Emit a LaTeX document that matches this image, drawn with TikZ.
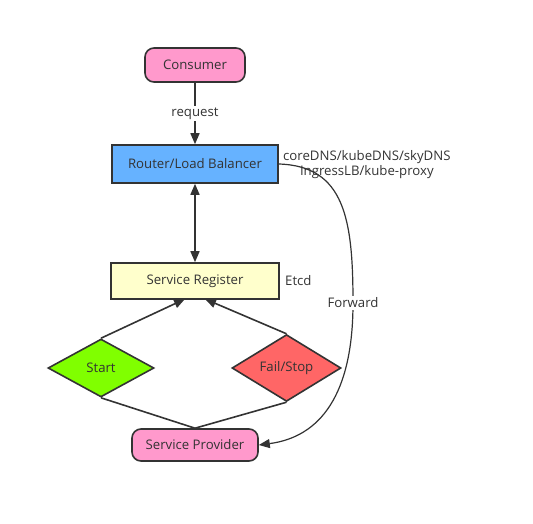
\documentclass[tikz,border=0pt]{standalone}
\usepackage{fontspec}
\setmainfont{Open Sans}
\usetikzlibrary{shapes.geometric,arrows.meta}
\definecolor{ink}{HTML}{333333}
\definecolor{pinkfill}{HTML}{FF99CC}
\definecolor{bluefill}{HTML}{66B2FF}
\definecolor{yellowfill}{HTML}{FFFFCC}
\definecolor{greenfill}{HTML}{80FF00}
\definecolor{redfill}{HTML}{FF6666}
\begin{document}
\begin{tikzpicture}[x=1pt,y=-1pt,
  every node/.style={font=\fontsize{13.2}{15}\selectfont, text=ink},
  box/.style={draw=ink, line width=1.6pt, inner sep=0pt},
  pill/.style={box, rounded corners=9pt, fill=pinkfill},
  rhomb/.style={box, diamond, minimum width=106pt, minimum height=58pt},
  link/.style={draw=ink, line width=1.6pt},
  tip/.style={-{Triangle[length=11pt,width=9pt]}},
  note/.style={inner sep=1pt}]
  \useasboundingbox (0,0) rectangle (533,523);

  \node[pill, minimum width=100pt, minimum height=34pt] (consumer) at (195,65) {Consumer};
  \node[box, fill=bluefill, minimum width=166pt, minimum height=38pt] (router) at (195,164) {Router/Load Balancer};
  \node[box, fill=yellowfill, minimum width=168pt, minimum height=36pt] (register) at (195,281) {Service Register};
  \node[rhomb, fill=greenfill] (start) at (101,368) {Start};
  \node[rhomb, fill=redfill, minimum width=109pt] (fail) at (286.5,368) {Fail/Stop};
  \node[pill, minimum width=126pt, minimum height=32pt] (provider) at (195,445) {Service Provider};

  \node[note, anchor=west] (etcd) at (284,281) {Etcd};
  \node[note, anchor=west, align=center] (dns) at (282,164.5) {coreDNS/kubeDNS/skyDNS\\IngressLB/kube-proxy};

  % request path
  \draw[link, tip] (consumer) -- node[fill=white, inner sep=1.5pt] {request} (router);
  % router <-> registry
  \draw[link, {Triangle[length=11pt,width=9pt]}-{Triangle[length=11pt,width=9pt]}] (router) -- (register);
  % state changes reported to the registry
  \coordinate (regL) at (185,299);
  \coordinate (regR) at (205,299);
  \draw[link, tip] (start.north) -- (regL);
  \draw[link, tip] (fail.north) -- (regR);
  \draw[link] (start.south) -- (provider.north) -- (fail.south);
  % forwarding curve
  \coordinate (bend) at (353,303);
  \draw[link, line width=1.2pt, tip] (router.east) .. controls (345,166) and (353,220) .. (bend)
    .. controls (353,395) and (320,437) .. (provider.east);
  \node[fill=white, inner sep=1.5pt] (fwd) at (bend) {Forward};
\end{tikzpicture}
\end{document}
